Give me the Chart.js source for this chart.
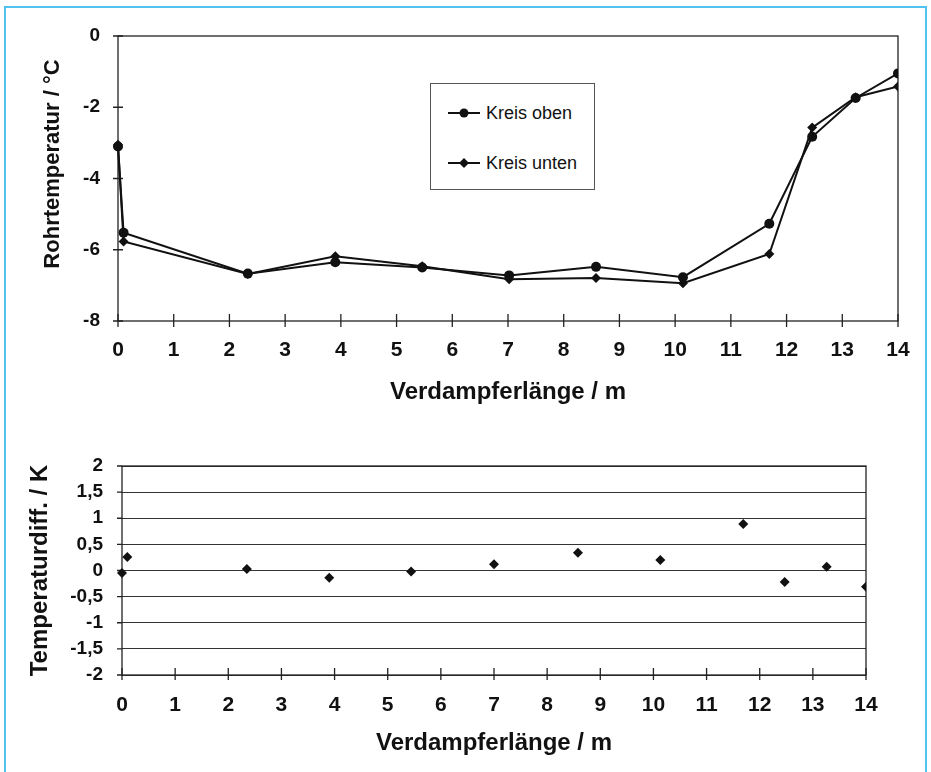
<!DOCTYPE html>
<html lang="de">
<head>
<meta charset="UTF-8">
<title>Rohrtemperatur und Temperaturdifferenz</title>
<script src="https://cdn.jsdelivr.net/npm/chart.js"></script>
<style>
  html, body { margin: 0; padding: 0; background: #fff; }
  body { width: 931px; height: 772px; position: relative; overflow: hidden; font-family: "Liberation Sans", Arial, sans-serif; }
  .frame { position: absolute; left: 4px; top: 6px; width: 919px; height: 800px; border: 2px solid #52c2ee; border-bottom: none; }
  #topChart { position: absolute; left: 0; top: 0; }
  #diffChart { position: absolute; left: 0; top: 420px; }
  .legend { position: absolute; left: 430px; top: 83px; width: 163px; height: 105px; border: 1px solid #555; background: #fff; }
  .legend .item { position: absolute; left: 17px; height: 20px; display: flex; align-items: center; font-size: 18px; color: #111; }
  .legend svg { margin-right: 6px; }
</style>
</head>
<body>
<div class="frame"></div>
<canvas id="topChart" width="931" height="420"></canvas>
<canvas id="diffChart" width="931" height="352"></canvas>
<div class="legend" id="legend"></div>

<script>
  // Verdampferlänge in m (Messstellen)
  const positions = [0, 0.1, 2.33, 3.9, 5.46, 7.02, 8.58, 10.14, 11.69, 12.46, 13.24, 14];
  // Rohrtemperatur in °C
  const kreisOben  = [-3.10, -5.52, -6.67, -6.35, -6.50, -6.72, -6.48, -6.77, -5.27, -2.83, -1.74, -1.05];
  const kreisUnten = [-3.05, -5.77, -6.68, -6.18, -6.46, -6.83, -6.79, -6.94, -6.12, -2.57, -1.72, -1.42];
  // Temperaturdifferenz in K
  const diffPositions = [0, 0.1, 2.35, 3.9, 5.44, 7.0, 8.58, 10.13, 11.69, 12.47, 13.26, 14];
  const tempDiff = [-0.05, 0.26, 0.03, -0.14, -0.02, 0.12, 0.34, 0.20, 0.89, -0.22, 0.07, -0.31];

  const seriesNames = ["Kreis oben", "Kreis unten"];
  const xTitle = "Verdampferlänge / m";
  const yTitleTop = "Rohrtemperatur / °C";

  const FONT = '"Liberation Sans", Arial, sans-serif';
  const INK = "#111";

  // box round the plot area and ticks that cross the axes
  const boxTicks = {
    id: "boxTicks",
    beforeDatasetsDraw(chart, args, o) {
      const { ctx, chartArea: a, scales: { x, y } } = chart;
      ctx.save();
      ctx.strokeStyle = "#222";
      ctx.lineWidth = 1.3;
      ctx.strokeRect(a.left, a.top, a.width, a.height);
      ctx.beginPath();
      x.ticks.forEach(t => {
        const px = x.getPixelForValue(t.value);
        ctx.moveTo(px, a.bottom - o.xIn);
        ctx.lineTo(px, a.bottom + o.xOut);
      });
      y.ticks.forEach(t => {
        const py = y.getPixelForValue(t.value);
        ctx.moveTo(a.left - o.yOut, py);
        ctx.lineTo(a.left + o.yIn, py);
      });
      ctx.stroke();
      ctx.restore();
    }
  };

  // rotated y title, sitting a little above the middle like in the original
  const sideTitle = {
    id: "sideTitle",
    afterDraw(chart, args, o) {
      if (!o.text) return;
      const { ctx } = chart;
      ctx.save();
      ctx.translate(o.x, o.y);
      ctx.rotate(-Math.PI / 2);
      ctx.font = `bold ${o.size}px ${FONT}`;
      ctx.fillStyle = INK;
      ctx.textAlign = "center";
      ctx.textBaseline = "middle";
      ctx.fillText(o.text, 0, 0);
      ctx.restore();
    }
  };

  const toPoints = (xs, ys) => xs.map((v, i) => ({ x: v, y: ys[i] }));

  new Chart(document.getElementById("topChart"), {
    type: "scatter",
    data: {
      datasets: [
        {
          label: seriesNames[0],
          data: toPoints(positions, kreisOben),
          showLine: true,
          borderColor: INK, backgroundColor: INK, borderWidth: 2,
          pointStyle: "circle", pointRadius: 5, pointBorderWidth: 0,
          clip: { left: 8, top: 8, right: 0, bottom: 8 }
        },
        {
          label: seriesNames[1],
          data: toPoints(positions, kreisUnten),
          showLine: true,
          borderColor: INK, backgroundColor: INK, borderWidth: 2,
          pointStyle: "rectRot", pointRadius: 5, pointBorderWidth: 0,
          clip: { left: 8, top: 8, right: 0, bottom: 8 }
        }
      ]
    },
    options: {
      responsive: false,
      animation: false,
      layout: { padding: { left: 0, top: 36, right: 33, bottom: 0 } },
      plugins: {
        legend: { display: false },
        tooltip: { enabled: false },
        boxTicks: { xIn: 7, xOut: 6, yIn: 5, yOut: 5 },
        sideTitle: { text: yTitleTop, x: 53, y: 164, size: 22 }
      },
      scales: {
        x: {
          type: "linear", min: 0, max: 14,
          grid: { display: false, drawTicks: false },
          border: { display: false },
          ticks: { stepSize: 1, autoSkip: false, maxRotation: 0, padding: 17, color: INK, font: { family: FONT, size: 21, weight: "bold" } },
          title: { display: true, text: xTitle, color: INK, padding: { top: 0, bottom: 13 }, font: { family: FONT, size: 24, weight: "bold" } },
          afterFit(s) { s.height = 99; }
        },
        y: {
          min: -8, max: 0,
          grid: { display: false, drawTicks: false },
          border: { display: false },
          ticks: { stepSize: 2, padding: 18, color: INK, font: { family: FONT, size: 19, weight: "bold" } },
          title: { display: false },
          afterFit(s) { s.width = 118; }
        }
      }
    },
    plugins: [boxTicks, sideTitle]
  });

  new Chart(document.getElementById("diffChart"), {
    type: "scatter",
    data: {
      datasets: [{
        label: "Temperaturdiff.",
        data: toPoints(diffPositions, tempDiff),
        borderColor: INK, backgroundColor: INK,
        pointStyle: "rectRot", pointRadius: 5, pointBorderWidth: 0,
        clip: { left: 8, top: 8, right: 0, bottom: 8 }
      }]
    },
    options: {
      responsive: false,
      animation: false,
      layout: { padding: { left: 0, top: 46, right: 65, bottom: 0 } },
      plugins: {
        legend: { display: false },
        tooltip: { enabled: false },
        boxTicks: { xIn: 7, xOut: 5, yIn: 0, yOut: 5 }
      },
      scales: {
        x: {
          type: "linear", min: 0, max: 14,
          grid: { display: false, drawTicks: false },
          border: { display: false },
          ticks: { stepSize: 1, autoSkip: false, maxRotation: 0, padding: 18, color: INK, font: { family: FONT, size: 21, weight: "bold" } },
          title: { display: true, text: xTitle, color: INK, padding: { top: 0, bottom: 14 }, font: { family: FONT, size: 24, weight: "bold" } },
          afterFit(s) { s.height = 97; }
        },
        y: {
          min: -2, max: 2,
          grid: { display: true, drawTicks: false, color: "#333", lineWidth: 1 },
          border: { display: false },
          ticks: {
            stepSize: 0.5, padding: 19, color: INK,
            font: { family: FONT, size: 19, weight: "bold" },
            callback: v => String(v).replace(".", ",")
          },
          title: { display: true, text: "Temperaturdiff. / K", color: INK, padding: { top: 26, bottom: 0 }, font: { family: FONT, size: 24, weight: "bold" } },
          afterFit(s) { s.width = 122; }
        }
      }
    },
    plugins: [boxTicks]
  });

  // legend box inside the upper plot
  const markers = [
    '<circle cx="16" cy="10" r="4.5" fill="#111"/>',
    '<polygon points="16,5 21,10 16,15 11,10" fill="#111"/>'
  ];
  document.getElementById("legend").innerHTML = seriesNames.map((name, i) => `
    <div class="item" style="top:${19 + i * 50}px">
      <svg width="32" height="20"><line x1="0" y1="10" x2="32" y2="10" stroke="#111" stroke-width="2"/>${markers[i]}</svg>
      <span>${name}</span>
    </div>`).join("");
</script>
</body>
</html>
